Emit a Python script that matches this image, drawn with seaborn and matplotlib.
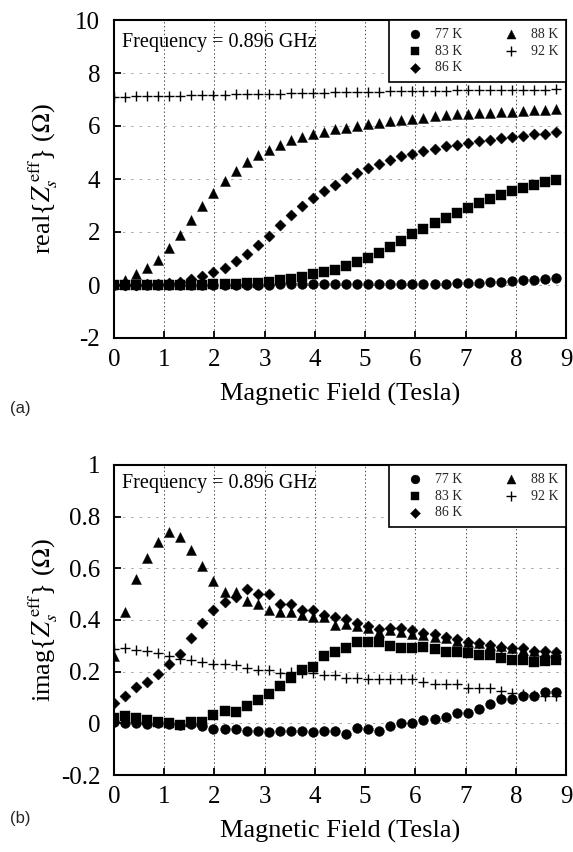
import numpy as np
import pandas as pd
import matplotlib
matplotlib.use("Agg")
import matplotlib.pyplot as plt
import seaborn as sns

# ---------------- data ----------------
field = [0.0, 0.22, 0.44, 0.66, 0.88, 1.1, 1.32, 1.54, 1.76, 1.98, 2.2, 2.42, 2.64, 2.86,
         3.08, 3.3, 3.52, 3.74, 3.96, 4.18, 4.4, 4.62, 4.84, 5.06, 5.28, 5.5, 5.72, 5.94,
         6.16, 6.38, 6.6, 6.82, 7.04, 7.26, 7.48, 7.7, 7.92, 8.14, 8.36, 8.58, 8.8]

temps = ["77 K", "83 K", "86 K", "88 K", "92 K"]

real_77 = [0.0, 0.0, 0.0, 0.0, 0.0, 0.01, 0.01, 0.01, 0.01, 0.01,
           0.01, 0.01, 0.01, 0.01, 0.01, 0.02, 0.02, 0.02, 0.02, 0.02,
           0.02,
           0.02, 0.02, 0.03, 0.03, 0.03, 0.03, 0.04, 0.04, 0.05,
           0.05, 0.06, 0.07, 0.08, 0.10, 0.12, 0.15, 0.18, 0.20, 0.23,
           0.27]
real_83 = [0.0, 0.0, 0.0, 0.0, 0.0, 0.0, 0.0, 0.0, 0.01, 0.02,
           0.03, 0.04, 0.06, 0.08, 0.12,
           0.17, 0.22, 0.30, 0.40, 0.50,
           0.58,
           0.70, 0.87, 1.03, 1.22, 1.44, 1.66, 1.92, 2.10, 2.34, 2.52,
           2.72, 2.90, 3.10, 3.23, 3.38, 3.53, 3.67, 3.78, 3.87, 3.96]
real_86 = [0.0, 0.0, 0.01, 0.02, 0.03, 0.06,
           0.12, 0.22, 0.34, 0.48, 0.64, 0.89, 1.17, 1.52, 1.85, 2.26, 2.64, 3.0, 3.28, 3.54, 3.79,
           4.02, 4.21, 4.41, 4.56, 4.72, 4.85, 4.94, 5.05, 5.15, 5.24,
           5.30, 5.36, 5.43, 5.49, 5.53, 5.58, 5.62, 5.68, 5.71, 5.77]
real_88 = [0.05, 0.2, 0.41, 0.64, 0.96, 1.38, 1.88, 2.45, 3.0, 3.47, 3.93, 4.32, 4.64, 4.89,
           5.11, 5.30, 5.47, 5.59, 5.71, 5.79, 5.87,
           5.94, 6.0, 6.09, 6.12, 6.17, 6.22, 6.28, 6.32, 6.36, 6.40,
           6.44, 6.45, 6.48, 6.50, 6.53, 6.54, 6.58, 6.60, 6.62, 6.64]
real_92 = [7.10, 7.11, 7.12, 7.13, 7.14, 7.15, 7.15, 7.16, 7.17, 7.18,
           7.18, 7.19, 7.20, 7.20, 7.21, 7.22, 7.23, 7.24, 7.25, 7.26,
           7.27,
           7.28, 7.29, 7.30, 7.30, 7.31, 7.31, 7.32, 7.32, 7.33, 7.33,
           7.34, 7.34, 7.35, 7.35, 7.35, 7.36, 7.36, 7.37, 7.37, 7.38]

imag_77 = [0.005, 0.003, 0.003, -0.003, 0.0, -0.003, -0.008, -0.003, -0.01, -0.022,
           -0.022, -0.022, -0.029, -0.029, -0.035, -0.029, -0.029, -0.029, -0.035, -0.029,
           -0.029,
           -0.042, -0.018, -0.022, -0.029, -0.01, 0.003, 0.003, 0.012, 0.018, 0.026,
           0.041, 0.041, 0.055, 0.073, 0.095, 0.094, 0.107, 0.107, 0.123, 0.12]
imag_83 = [0.022, 0.03, 0.022, 0.013, 0.006, 0.003, -0.007, 0.006, 0.006, 0.031,
           0.048, 0.044, 0.069, 0.092, 0.115, 0.145, 0.174, 0.205, 0.219, 0.259,
           0.278,
           0.29, 0.315, 0.316, 0.315, 0.298, 0.29, 0.29, 0.297, 0.289, 0.276,
           0.275, 0.272, 0.263, 0.266, 0.252, 0.245, 0.244, 0.236, 0.242, 0.246]
imag_86 = [0.077, 0.107, 0.139, 0.16, 0.19, 0.23, 0.27, 0.33, 0.39, 0.44,
           0.47, 0.49, 0.52, 0.50, 0.50, 0.46, 0.46, 0.44, 0.44, 0.42,
           0.41,
           0.405, 0.39, 0.375, 0.365, 0.37, 0.37, 0.36, 0.35, 0.345, 0.335,
           0.325, 0.315, 0.31, 0.305, 0.295, 0.29, 0.29, 0.28, 0.28, 0.275]
imag_88 = [0.26, 0.43, 0.56, 0.64, 0.70, 0.74, 0.72, 0.67, 0.61, 0.55,
           0.51, 0.51, 0.475, 0.46, 0.44, 0.43, 0.43, 0.42, 0.41, 0.41,
           0.38,
           0.385, 0.375, 0.37, 0.355, 0.36, 0.355, 0.345, 0.34, 0.335, 0.33,
           0.32, 0.315, 0.31, 0.305, 0.30, 0.29, 0.285, 0.28, 0.275, 0.27]
imag_92 = [0.288, 0.292, 0.282, 0.28, 0.272, 0.259, 0.25, 0.246, 0.238, 0.229,
           0.231, 0.225, 0.216, 0.208, 0.208, 0.196, 0.2, 0.193, 0.193, 0.187,
           0.187,
           0.176, 0.174, 0.17, 0.17, 0.17, 0.17, 0.17, 0.16, 0.153, 0.153,
           0.153, 0.136, 0.136, 0.136, 0.124, 0.117, 0.113, 0.11, 0.107, 0.105]

x_ticks = [0, 1, 2, 3, 4, 5, 6, 7, 8, 9]
x_ticklabels = ["0", "1", "2", "3", "4", "5", "6", "7", "8", "9"]
real_ticks = [-2, 0, 2, 4, 6, 8, 10]
real_ticklabels = ["-2", "0", "2", "4", "6", "8", "10"]
imag_ticks = [-0.2, 0, 0.2, 0.4, 0.6, 0.8, 1.0]
imag_ticklabels = ["-0.2", "0", "0.2", "0.4", "0.6", "0.8", "1"]

# ---------------- style ----------------
sns.set_theme(style="white")
plt.rcParams['font.family'] = ['Liberation Serif', 'DejaVu Serif']
plt.rcParams['mathtext.fontset'] = 'stix'
plt.rcParams['axes.unicode_minus'] = False

marker_map = {"77 K": "o", "83 K": "s", "86 K": "D", "88 K": "^", "92 K": "+"}
size_map = {"77 K": 50, "83 K": 44, "86 K": 32, "88 K": 52, "92 K": 62}

fig = plt.figure(figsize=(5.73, 8.52), dpi=100)
ax1 = fig.add_axes([0.199, 1 - 338 / 852, 0.789, 318 / 852])
ax2 = fig.add_axes([0.199, 1 - 775 / 852, 0.789, 310 / 852])


def draw(ax, series, ylim, yticks, yticklabels, ylabel, xlab_y, freq_y):
    for lab, vals in zip(temps, series):
        df = pd.DataFrame({"field": field, "value": vals})
        m = marker_map[lab]
        if m == "+":
            sns.scatterplot(data=df, x="field", y="value", marker=m, s=size_map[lab],
                            color="black", linewidth=1.0, ax=ax, label=lab, zorder=3)
        else:
            sns.scatterplot(data=df, x="field", y="value", marker=m, s=size_map[lab],
                            color="black", edgecolor="black", linewidth=0.3, ax=ax,
                            label=lab, zorder=3)
    ax.set_xlim(0, 9)
    ax.set_ylim(*ylim)
    ax.set_xticks(x_ticks)
    ax.set_xticklabels(x_ticklabels)
    ax.set_yticks(yticks)
    ax.set_yticklabels(yticklabels)
    ax.tick_params(direction="in", length=5, width=1.3, left=True, bottom=True,
                   labelsize=18, colors="black")
    ax.tick_params(axis="y", pad=10)
    ax.tick_params(axis="x", pad=8)
    ax.grid(True, axis="x", linestyle=(0, (1.5, 2.5)), color="0.3", linewidth=0.7)
    ax.grid(True, axis="y", linestyle=(0, (3, 7)), color="0.6", linewidth=0.6)
    ax.set_axisbelow(True)
    for sp in ax.spines.values():
        sp.set_color("black")
        sp.set_linewidth(1.5)
    ax.set_xlabel("Magnetic Field (Tesla)", fontsize=19, color="black", va="top")
    ax.xaxis.set_label_coords(0.5, xlab_y)
    ax.set_ylabel(ylabel, fontsize=19, color="black")
    ax.yaxis.set_label_coords(-0.12, 0.5)
    ax.text(0.018, freq_y, "Frequency = 0.896 GHz", transform=ax.transAxes,
            fontsize=14.5, va="top", ha="left", color="black")
    leg = ax.legend(ncol=2, loc="upper right", borderaxespad=0, fontsize=10,
                    frameon=True, fancybox=False, framealpha=1, edgecolor="black",
                    handletextpad=0.15, columnspacing=2.2, labelspacing=0.28,
                    markerscale=0.9, handlelength=2.6, borderpad=0.55)
    leg.get_frame().set_linewidth(1.2)


draw(ax1, [real_77, real_83, real_86, real_88, real_92], (-2, 10), real_ticks,
     real_ticklabels, r"real{$Z_{s}^{\,\mathrm{eff}}$} ($\Omega$)", -0.14, 0.96)
draw(ax2, [imag_77, imag_83, imag_86, imag_88, imag_92], (-0.2, 1.0), imag_ticks,
     imag_ticklabels, r"imag{$Z_{s}^{\,\mathrm{eff}}$} ($\Omega$)", -0.145, 0.97)

fig.text(0.018, 1 - 408 / 852, "(a)", fontsize=12, family=["Liberation Sans", "DejaVu Sans"],
         va="center", ha="left")
fig.text(0.018, 1 - 818 / 852, "(b)", fontsize=12, family=["Liberation Sans", "DejaVu Sans"],
         va="center", ha="left")

fig.savefig("out.png", dpi=100)
